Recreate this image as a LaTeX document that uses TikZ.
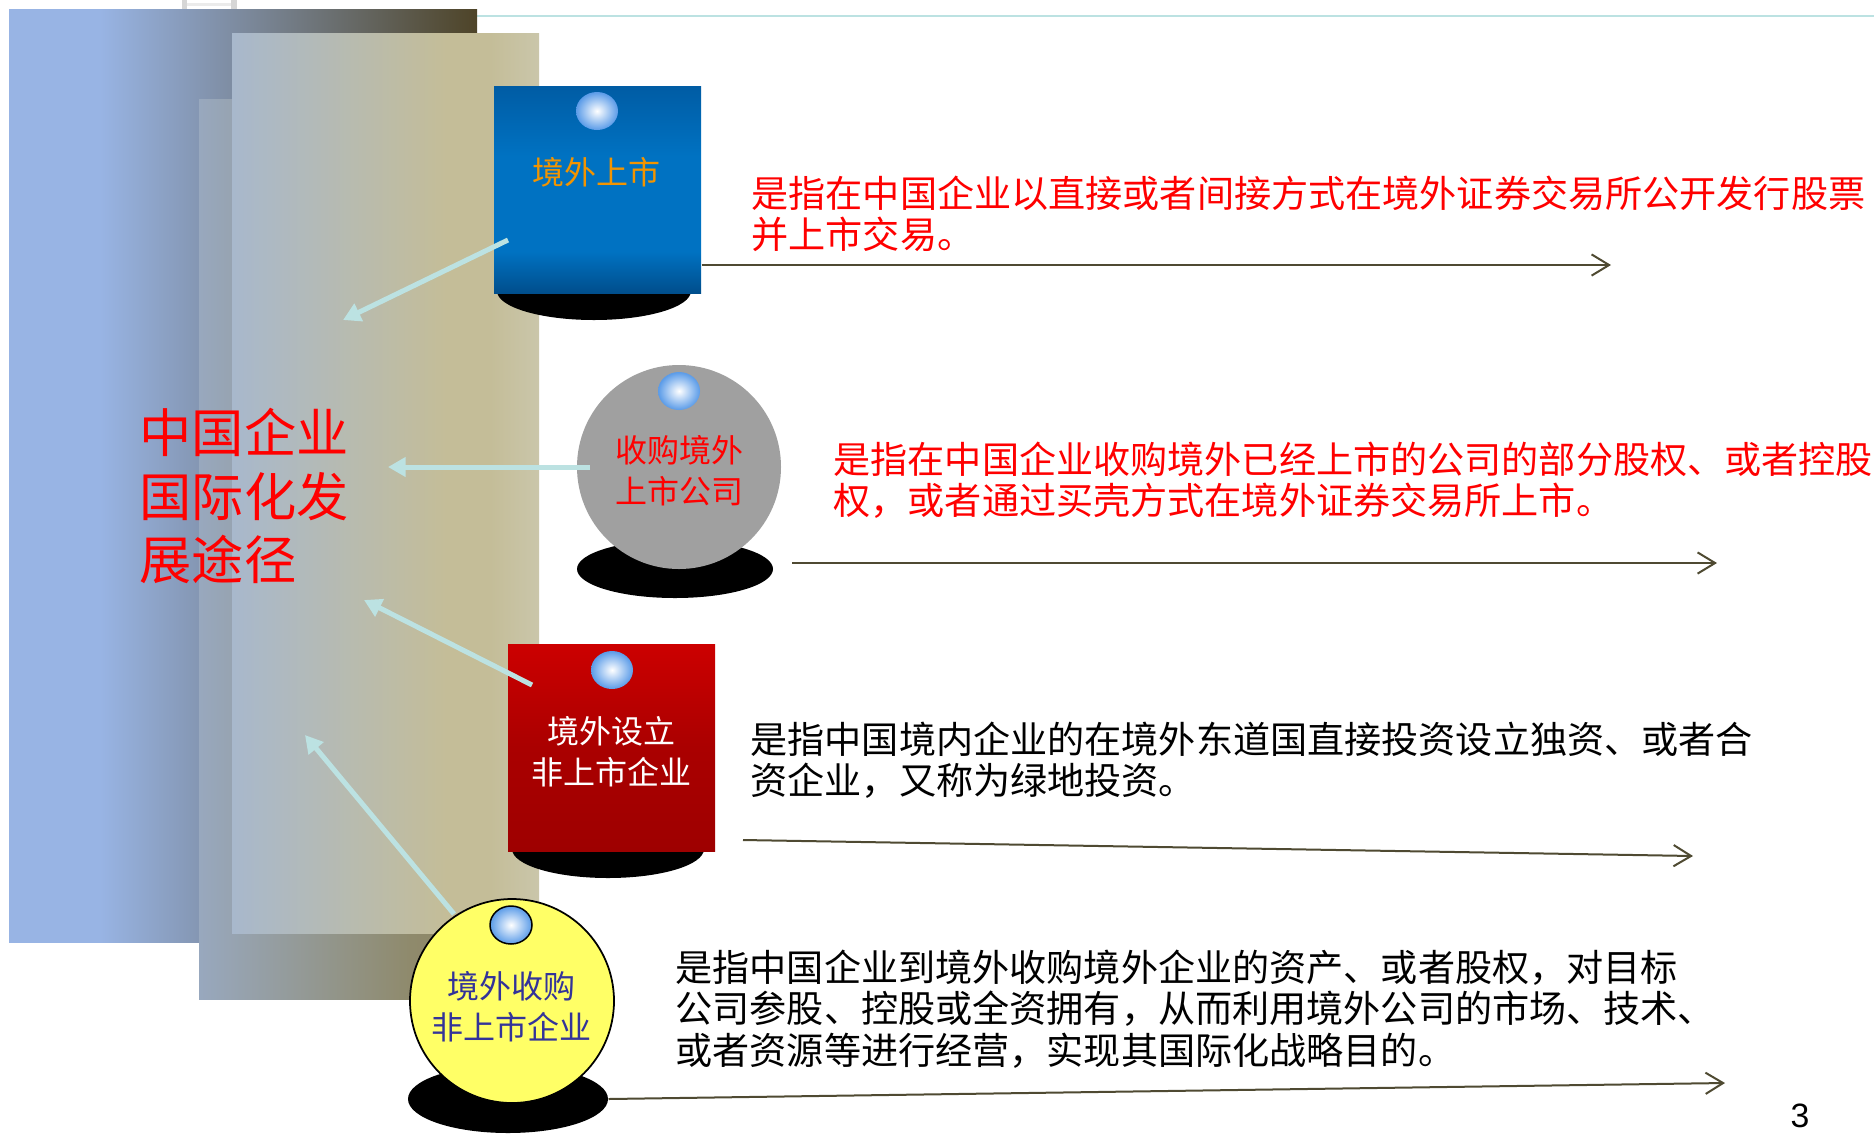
\documentclass[tikz,border=0pt]{standalone}
\usepackage{fontspec}
\setmainfont{Liberation Sans}
\newfontfamily\cjk{Noto Sans CJK SC}
\usetikzlibrary{arrows.meta,shapes.geometric,calc}
\definecolor{bkA}{HTML}{98B4E4}
\definecolor{bkB}{HTML}{4E4428}
\definecolor{mdA}{HTML}{98A8BE}
\definecolor{mdB}{HTML}{8F8A6C}
\definecolor{mdC}{HTML}{8A8260}
\definecolor{frA}{HTML}{A8B8CC}
\definecolor{frB}{HTML}{C4BD98}
\definecolor{frC}{HTML}{CAC6AA}
\definecolor{tealL}{HTML}{BCE2E2}
\definecolor{tabG}{HTML}{D6D6D6}
\definecolor{blueT}{HTML}{005CA4}
\definecolor{blueM}{HTML}{0072C2}
\definecolor{blueB}{HTML}{004E8C}
\definecolor{redT}{HTML}{CC0000}
\definecolor{redM}{HTML}{AA0000}
\definecolor{redB}{HTML}{9E0000}
\definecolor{grayF}{HTML}{A0A0A0}
\definecolor{yellowF}{HTML}{FFFF66}
\definecolor{bulbE}{HTML}{5A9BE8}
\definecolor{orangeT}{HTML}{F29400}
\definecolor{navyT}{HTML}{333399}
\definecolor{olive}{HTML}{4F4A32}
\pgfdeclarehorizontalshading{backsh}{100bp}{color(0bp)=(bkA); color(34.7bp)=(bkA); color(75bp)=(bkB); color(100bp)=(bkB)}
\pgfdeclarehorizontalshading{midsh}{100bp}{color(0bp)=(mdA); color(25bp)=(mdA); color(58.9bp)=(mdB); color(75bp)=(mdC); color(100bp)=(mdC)}
\pgfdeclarehorizontalshading{frontsh}{100bp}{color(0bp)=(frA); color(25bp)=(frA); color(59.9bp)=(frB); color(67bp)=(frB); color(75bp)=(frC); color(100bp)=(frC)}
\pgfdeclareverticalshading{bluesh}{100bp}{color(0bp)=(blueB); color(25bp)=(blueB); color(35bp)=(blueM); color(58bp)=(blueM); color(75bp)=(blueT); color(100bp)=(blueT)}
\pgfdeclareverticalshading{redsh}{100bp}{color(0bp)=(redB); color(25bp)=(redB); color(50bp)=(redM); color(75bp)=(redT); color(100bp)=(redT)}
\begin{document}
\begin{tikzpicture}[x=0.4pt,y=-0.4pt,
  blackbase/.style={ellipse, fill=black, inner sep=0pt},
  bulb/.style={ellipse, inner sep=0pt, minimum width=16.8pt, minimum height=15.2pt, shading=radial, inner color=white, outer color=bulbE},
  squarebox/.style={rectangle, inner sep=0pt, minimum width=82.8pt, minimum height=82.8pt},
  bluebox/.style={squarebox, shading=bluesh},
  redbox/.style={squarebox, shading=redsh},
  lbl/.style={inner sep=0pt, align=center, font=\cjk\fontsize{12.8}{16.3}\selectfont},
  desc/.style={inner sep=0pt, anchor=west, align=left, font=\cjk\fontsize{14.85}{16.5}\selectfont},
  tealarrow/.style={draw=tealL, line width=2pt, -{Triangle[length=7pt,width=7.5pt]}},
  darrow/.style={draw=olive, line width=0.8pt, -{Straight Barb[length=7pt,width=8.5pt,line width=0.8pt]}}]
\useasboundingbox (0,0) rectangle (1874,1135);
\fill[white] (0,0) rectangle (1874,1135);
% top decorations
\draw[tealL, line width=0.9pt] (477,16) -- (1874,16);
\fill[tabG] (182,0) rectangle (187,9);
\fill[tabG] (231,0) rectangle (237,9);
\fill[tabG!50] (187,3) rectangle (231,6);
% panels
\path[shading=backsh] (9,9) rectangle (477,942);
\path[shading=midsh] (199,99) rectangle (510,999);
\path[shading=frontsh] (232,33) rectangle (539,933);
% title
\node[inner sep=0pt, anchor=west, align=left, text=red, font=\cjk\fontsize{20.9}{25.4}\selectfont] (title) at (139,496) {中国企业\\国际化发\\展途径};
% box 1
\node[blackbase, minimum width=77.6pt, minimum height=23.2pt] (s1) at (594,291) {};
\node[bluebox] (b1) at (597.5,189.5) {};
\node[bulb] (u1) at (597,111) {};
\node[lbl, text=orangeT] (l1) at (596,172) {境外上市};
% box 2
\node[blackbase, minimum width=78.4pt, minimum height=23.2pt] (s2) at (675,569) {};
\node[circle, fill=grayF, minimum size=81.6pt, inner sep=0pt] (c2) at (679,467) {};
\node[bulb] (u2) at (679,391) {};
\node[lbl, text=red] (l2) at (679,471) {收购境外\\上市公司};
% box 3
\node[blackbase, minimum width=76.8pt, minimum height=23.2pt] (s3) at (608,849) {};
\node[redbox] (b3) at (611.5,747.5) {};
\node[bulb] (u3) at (612,670) {};
\node[lbl, text=white] (l3) at (611,751.5) {境外设立\\非上市企业};
% box 4
\node[blackbase, minimum width=80pt, minimum height=27.2pt] (s4) at (508,1099) {};
\node[circle, draw=black, line width=0.7pt, fill=yellowF, minimum size=81.6pt, inner sep=0pt] (c4) at (512,1001) {};
\node[bulb, draw=black, line width=0.6pt] (u4) at (511,925) {};
\node[lbl, text=navyT] (l4) at (511,1006.5) {境外收购\\非上市企业};
% teal arrows
\coordinate (a1s) at (508,240); \coordinate (a1e) at (343,320);
\coordinate (a2s) at (590,467); \coordinate (a2e) at (388,467);
\coordinate (a3s) at (532,685); \coordinate (a3e) at (364,600);
\coordinate (a4s) at (454,914); \coordinate (a4e) at (305,735);
\draw[tealarrow] (a1s) -- (a1e);
\draw[tealarrow] (a2s) -- (a2e);
\draw[tealarrow] (a3s) -- (a3e);
\draw[tealarrow] (a4s) -- (a4e);
% descriptions
\node[desc, text=red] (d1) at (751,214) {是指在中国企业以直接或者间接方式在境外证券交易所公开发行股票\\并上市交易。};
\node[desc, text=red] (d2) at (833,480) {是指在中国企业收购境外已经上市的公司的部分股权、或者控股\\权，或者通过买壳方式在境外证券交易所上市。};
\node[desc, text=black] (d3) at (750,760) {是指中国境内企业的在境外东道国直接投资设立独资、或者合\\资企业，又称为绿地投资。};
\node[desc, text=black] (d4) at (675,1009) {是指中国企业到境外收购境外企业的资产、或者股权，对目标\\公司参股、控股或全资拥有，从而利用境外公司的市场、技术、\\或者资源等进行经营，实现其国际化战略目的。};
% right arrows
\coordinate (r1e) at (1611,265);
\coordinate (r2s) at (792,563); \coordinate (r2e) at (1717,563);
\coordinate (r3s) at (743,840); \coordinate (r3e) at (1693,856);
\coordinate (r4e) at (1725,1083);
\draw[darrow] (b1.east |- r1e) -- (r1e);
\draw[darrow] (r2s) -- (r2e);
\draw[darrow] (r3s) -- (r3e);
\draw[darrow] (s4.east) -- (r4e);
% page number
\node[inner sep=0pt, font=\fontsize{13.5}{15}\selectfont] (pn) at (1800,1116) {3};
\end{tikzpicture}
\end{document}
